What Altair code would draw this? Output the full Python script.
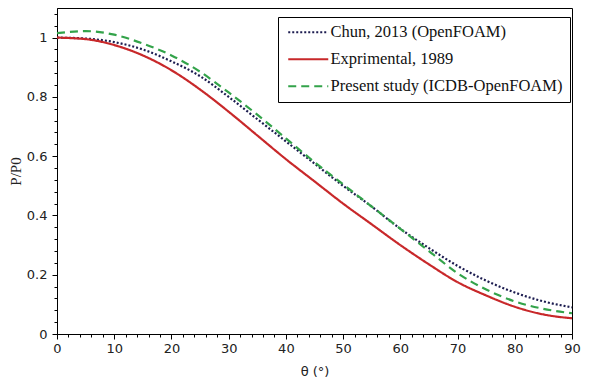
import altair as alt
import pandas as pd

theta = [0, 5, 10, 15, 20, 25, 30, 35, 40, 45, 50, 55, 60, 65, 70, 75, 80, 85, 90]

chun = [1.0, 0.997, 0.985, 0.96, 0.92, 0.87, 0.80, 0.725, 0.65, 0.575, 0.50,
        0.43, 0.355, 0.29, 0.23, 0.18, 0.14, 0.11, 0.09]
experimental = [1.0, 0.995, 0.975, 0.94, 0.89, 0.825, 0.75, 0.67, 0.59, 0.515,
                0.44, 0.37, 0.30, 0.235, 0.175, 0.13, 0.092, 0.066, 0.053]
present = [1.015, 1.022, 1.01, 0.98, 0.94, 0.885, 0.815, 0.74, 0.66, 0.58, 0.505,
           0.43, 0.355, 0.28, 0.205, 0.15, 0.11, 0.085, 0.07]

names = ["Chun, 2013 (OpenFOAM)", "Exprimental, 1989", "Present study (ICDB-OpenFOAM)"]
colors = ["#1c1c50", "#c8282a", "#33a34a"]
dashes = [[2, 2], [1, 0], [8, 5]]

x_ticks = list(range(0, 91, 2))
y_ticks = [round(i * 0.04, 2) for i in range(0, 28)]

rows = []
for name, vals in zip(names, [chun, experimental, present]):
    for t, v in zip(theta, vals):
        rows.append({"theta": t, "p": v, "series": name})
df = pd.DataFrame(rows)

x_axis = alt.Axis(
    values=x_ticks,
    labelExpr="datum.value % 10 === 0 ? datum.label : ''",
    tickSize={"condition": {"test": "datum.value % 10 === 0", "value": 5}, "value": 3},
    grid=False, domainColor="black", tickColor="black",
    labelFont="DejaVu Sans", labelFontSize=13, labelColor="#222",
    labelFlush=False, labelOverlap=False, labelPadding=3,
    titleFont="DejaVu Sans", titleFontSize=13, titleFontWeight="normal",
    titleColor="#222", titlePadding=10,
)
y_axis = alt.Axis(
    values=y_ticks,
    format="~g",
    labelExpr="abs(datum.value*5 - round(datum.value*5)) < 0.000001 ? datum.label : ''",
    tickSize={"condition": {"test": "abs(datum.value*5 - round(datum.value*5)) < 0.000001",
                            "value": 5}, "value": 3},
    grid=False, domainColor="black", tickColor="black",
    labelFont="DejaVu Sans", labelFontSize=13, labelColor="#222",
    labelOverlap=False, labelPadding=5, labelFlush=False,
    titleFont="Liberation Serif", titleFontSize=15, titleFontWeight="normal",
    titleColor="#222", titlePadding=3,
)

chart = alt.Chart(df).mark_line(interpolate="monotone", strokeWidth=2.2).encode(
    x=alt.X("theta:Q", title="θ (°)", scale=alt.Scale(domain=[0, 90], nice=False), axis=x_axis),
    y=alt.Y("p:Q", title="P/P0", scale=alt.Scale(domain=[0, 1.1], nice=False), axis=y_axis),
    color=alt.Color("series:N", scale=alt.Scale(domain=names, range=colors),
                    legend=alt.Legend(
                        title=None, orient="none", legendX=221, legendY=9,
                        strokeColor="black", padding=7, fillColor="white",
                        symbolType="M-3,0L3,0", symbolSize=178, symbolStrokeWidth=2,
                        symbolOffset=15,
                        labelFont="Liberation Serif", labelFontSize=16.5, labelColor="#111",
                        rowPadding=10, labelOffset=14, labelLimit=400,
                    )),
    strokeDash=alt.StrokeDash("series:N", scale=alt.Scale(domain=names, range=dashes), legend=None),
).properties(
    width=515, height=326,
    autosize=alt.AutoSizeParams(type="none"),
    padding={"left": 49, "top": 0, "right": 9, "bottom": 46},
).configure_view(stroke="black", strokeWidth=1)

chart.save("out.html", embed_options={"renderer": "svg", "actions": False})
